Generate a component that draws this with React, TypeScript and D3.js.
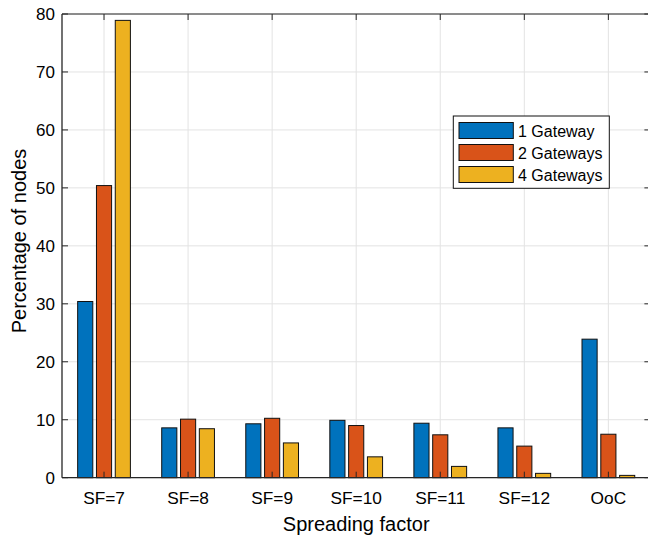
import React from "react";
import * as d3 from "d3";

const categories = ["SF=7", "SF=8", "SF=9", "SF=10", "SF=11", "SF=12", "OoC"];
const series = ["1 Gateway", "2 Gateways", "4 Gateways"];
const gw1 = [30.4, 8.6, 9.3, 9.9, 9.4, 8.6, 23.9];
const gw2 = [50.4, 10.1, 10.25, 9.0, 7.4, 5.45, 7.5];
const gw4 = [78.9, 8.45, 6.0, 3.6, 1.95, 0.75, 0.4];
const yTicks = [0, 10, 20, 30, 40, 50, 60, 70, 80];
const colors = ["#0072BD", "#D95319", "#EDB120"];

const W = 648;
const H = 538;

export default function App() {
  const data = [gw1, gw2, gw4];
  const x = d3.scaleLinear().domain([0.5, 7.5]).range([62, 650.4]);
  const y = d3.scaleLinear().domain([0, 80]).range([477.7, 14]);
  const offset = 0.2237;
  const bw = 0.18;
  const axisColor = "#262626";
  const font = "'Liberation Sans', Arial, Helvetica, sans-serif";
  const left = x(0.5);
  const right = x(7.5);
  const top = y(80);
  const bottom = y(0);

  return (
    <div style={{ position: "absolute", left: 0, top: 0 }}>
      <svg width={W} height={H} style={{ display: "block", background: "#fff" }}>
        {/* grid */}
        {yTicks.map((t) => (
          <line key={"gy" + t} x1={left} x2={right} y1={y(t)} y2={y(t)} stroke="#e3e3e3" strokeWidth={1} />
        ))}
        {categories.map((c, i) => (
          <line key={"gx" + c} x1={x(i + 1)} x2={x(i + 1)} y1={top} y2={bottom} stroke="#e3e3e3" strokeWidth={1} />
        ))}
        {/* bars */}
        {data.map((s, si) =>
          s.map((v, i) => {
            const cx = x(i + 1 + (si - 1) * offset);
            const w = x(bw) - x(0);
            return (
              <rect
                key={"b" + si + "-" + i}
                x={cx - w / 2}
                y={y(v)}
                width={w}
                height={bottom - y(v)}
                fill={colors[si]}
                stroke="#111"
                strokeWidth={1}
              />
            );
          })
        )}
        {/* axes box */}
        <line x1={left} x2={right} y1={top} y2={top} stroke={axisColor} strokeWidth={1} />
        <line x1={left} x2={right} y1={bottom} y2={bottom} stroke={axisColor} strokeWidth={1.3} />
        <line x1={left} x2={left} y1={top} y2={bottom} stroke={axisColor} strokeWidth={1.3} />
        <line x1={right} x2={right} y1={top} y2={bottom} stroke={axisColor} strokeWidth={1} />
        {/* y ticks */}
        {yTicks.map((t) => (
          <g key={"yt" + t}>
            <line x1={left} x2={left + 6} y1={y(t)} y2={y(t)} stroke={axisColor} />
            <line x1={right} x2={right - 6} y1={y(t)} y2={y(t)} stroke={axisColor} />
            <text x={left - 7} y={y(t)} dy="0.35em" textAnchor="end" fontFamily={font} fontSize={17} fill="#000">
              {t}
            </text>
          </g>
        ))}
        {/* x ticks */}
        {categories.map((c, i) => (
          <g key={"xt" + c}>
            <line x1={x(i + 1)} x2={x(i + 1)} y1={bottom} y2={bottom - 6} stroke={axisColor} />
            <line x1={x(i + 1)} x2={x(i + 1)} y1={top} y2={top + 6} stroke={axisColor} />
            <text x={x(i + 1)} y={504.3} textAnchor="middle" fontFamily={font} fontSize={17.3} fill="#000">
              {c}
            </text>
          </g>
        ))}
        {/* axis labels */}
        <text x={(left + right) / 2} y={531} textAnchor="middle" fontFamily={font} fontSize={20} fill="#000">
          Spreading factor
        </text>
        <text
          transform={`translate(25.5, 241) rotate(-90)`}
          textAnchor="middle"
          fontFamily={font}
          fontSize={20}
          fill="#000"
        >
          Percentage of nodes
        </text>
        {/* legend */}
        <g>
          <rect x={453.3} y={116} width={156} height={72.3} fill="#fff" stroke="#111" strokeWidth={1} />
          {series.map((s, i) => (
            <g key={"lg" + s}>
              <rect x={459} y={122.5 + i * 22} width={54.3} height={16} fill={colors[i]} stroke="#111" strokeWidth={1} />
              <text x={518} y={137 + i * 22} fontFamily={font} fontSize={16} fill="#000">
                {s}
              </text>
            </g>
          ))}
        </g>
      </svg>
    </div>
  );
}
